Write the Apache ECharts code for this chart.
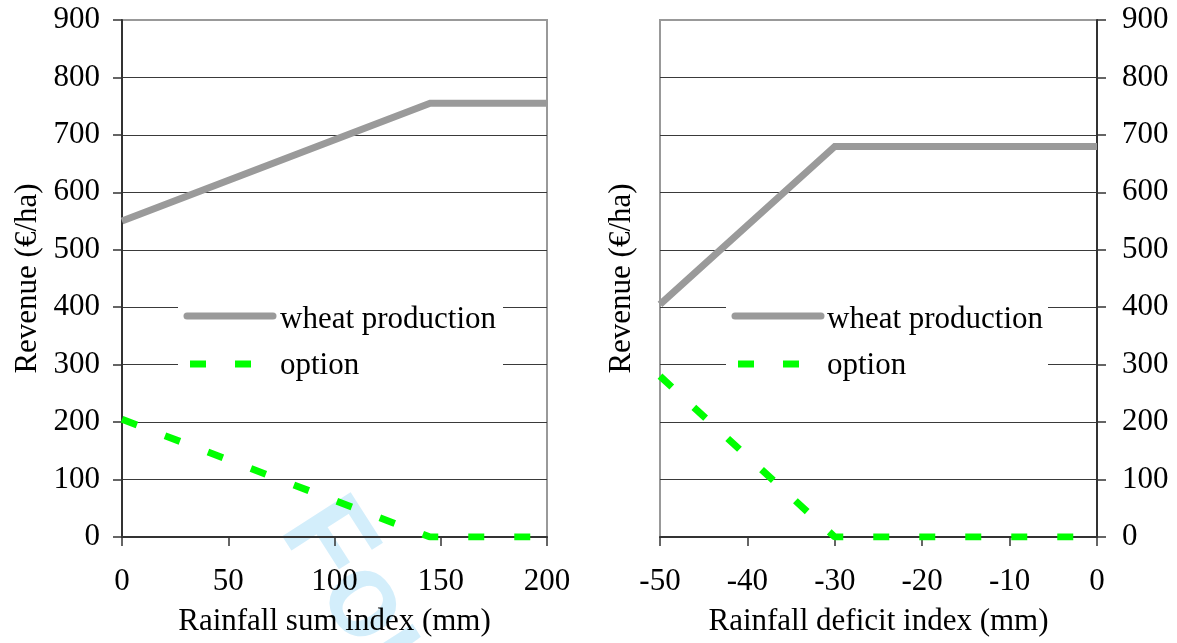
<!DOCTYPE html>
<html>
<head>
<meta charset="utf-8">
<script src="https://cdn.jsdelivr.net/npm/echarts@6/dist/echarts.min.js"></script>
<style>
html,body{margin:0;padding:0;background:#fff;}
#chart{width:1177px;height:643px;}
</style>
</head>
<body>
<div id="chart"></div>
<script>
// ---- data ----
var sumX = [0, 145, 200];
var sumWheat = [550, 755, 755];
var sumOption = [205, 0, 0];
var defX = [-50, -30, 0];
var defWheat = [405, 680, 680];
var defOption = [280, 0, 0];
var seriesNames = ['wheat production', 'option'];
var yTitle = 'Revenue (€/ha)';
var xTitleLeft = 'Rainfall sum index (mm)';
var xTitleRight = 'Rainfall deficit index (mm)';
var watermark = 'For Peer Review';

function pairs(xs, ys){ return xs.map(function(x,i){ return [x, ys[i]]; }); }

var FONT = 'Liberation Serif';
var FS = 31;
var GRAY = '#9a9a9a';
var GREEN = '#00ff00';

var chart = echarts.init(document.getElementById('chart'), null, {renderer:'canvas'});

function xAxisCfg(gi, min, max, interval, name){
  return {
    type:'value', gridIndex:gi, min:min, max:max, interval:interval,
    name:name, nameLocation:'middle', nameGap:69,
    nameTextStyle:{fontFamily:FONT, fontSize:FS, color:'#000'},
    axisLine:{show:true, onZero:false, lineStyle:{color:'#333', width:2}},
    axisTick:{show:true, inside:false, length:9, lineStyle:{color:'#333', width:1.5}},
    axisLabel:{fontFamily:FONT, fontSize:FS, color:'#000', margin:29},
    splitLine:{show:false}
  };
}
function yAxisCfg(gi, pos){
  return {
    type:'value', gridIndex:gi, position:pos, min:0, max:900, interval:100,
    axisLine:{show:true, onZero:false, lineStyle:{color:'#333', width:2}},
    axisTick:{show:true, inside:false, length:9, lineStyle:{color:'#333', width:1.5}},
    axisLabel:{fontFamily:FONT, fontSize:FS, color:'#000', margin:pos==='left'?22:25},
    splitLine:{show:true, showMinLine:false, showMaxLine:false, lineStyle:{color:'#3a3a3a', width:1}}
  };
}

var yLeft = yAxisCfg(0, 'left');
yLeft.name = yTitle; yLeft.nameLocation = 'middle'; yLeft.nameGap = 79;
yLeft.nameTextStyle = {fontFamily:FONT, fontSize:FS, color:'#000'};

var yRight = yAxisCfg(1, 'right');
var yRightName = {
  type:'value', gridIndex:1, position:'left', min:0, max:900, interval:100,
  name:yTitle, nameLocation:'middle', nameGap:23,
  nameTextStyle:{fontFamily:FONT, fontSize:FS, color:'#000'},
  axisLine:{show:false}, axisTick:{show:false}, axisLabel:{show:false}, splitLine:{show:false}
};

function legendItems(x0, textX, boxW){
  var f = FS + 'px "Liberation Serif"';
  return [
    {type:'rect', z:50, shape:{x:x0-9, y:288, width:boxW, height:102}, style:{fill:'#fff'}},
    {type:'line', z:51, shape:{x1:x0, y1:316, x2:x0+86, y2:316}, style:{stroke:GRAY, lineWidth:7, lineCap:'round'}},
    {type:'line', z:51, shape:{x1:x0+3, y1:364, x2:x0+19, y2:364}, style:{stroke:GREEN, lineWidth:7, lineCap:'butt'}},
    {type:'line', z:51, shape:{x1:x0+48, y1:364, x2:x0+64, y2:364}, style:{stroke:GREEN, lineWidth:7, lineCap:'butt'}},
    {type:'text', z:51, x:textX, y:320, style:{text:seriesNames[0], font:f, fill:'#000', verticalAlign:'middle', align:'left'}},
    {type:'text', z:51, x:textX, y:366, style:{text:seriesNames[1], font:f, fill:'#000', verticalAlign:'middle', align:'left'}}
  ];
}

var option = {
  backgroundColor:'#fff',
  animation:false,
  grid:[
    {left:122, right:630, top:20, bottom:106, show:true, borderColor:'#999', borderWidth:2, backgroundColor:'transparent'},
    {left:660, right:80, top:20, bottom:106, show:true, borderColor:'#999', borderWidth:2, backgroundColor:'transparent'}
  ],
  xAxis:[
    xAxisCfg(0, 0, 200, 50, xTitleLeft),
    xAxisCfg(1, -50, 0, 10, xTitleRight)
  ],
  yAxis:[yLeft, yRight, yRightName],
  graphic:[
    {type:'text', z:-10, x:355, y:480, rotation:-1.0, silent:true,
     style:{text:watermark, font:'bold 118px "Liberation Sans"', fill:'#d3eefb', verticalAlign:'top', align:'left'}}
  ].concat(legendItems(187, 280, 325)).concat(legendItems(735, 827, 322)),
  series:[
    {name:seriesNames[0], type:'line', xAxisIndex:0, yAxisIndex:0, data:pairs(sumX, sumWheat), showSymbol:false, symbol:'none',
     lineStyle:{color:GRAY, width:7, cap:'butt', join:'miter'}, z:10},
    {name:seriesNames[1], type:'line', xAxisIndex:0, yAxisIndex:0, data:pairs(sumX, sumOption), showSymbol:false, symbol:'none',
     lineStyle:{color:GREEN, width:7, type:[16,30], cap:'butt'}, z:11},
    {name:seriesNames[0], type:'line', xAxisIndex:1, yAxisIndex:1, data:pairs(defX, defWheat), showSymbol:false, symbol:'none',
     lineStyle:{color:GRAY, width:7, cap:'butt', join:'miter'}, z:10},
    {name:seriesNames[1], type:'line', xAxisIndex:1, yAxisIndex:1, data:pairs(defX, defOption), showSymbol:false, symbol:'none',
     lineStyle:{color:GREEN, width:7, type:[16,30], cap:'butt'}, z:11}
  ]
};
chart.setOption(option);
</script>
</body>
</html>
